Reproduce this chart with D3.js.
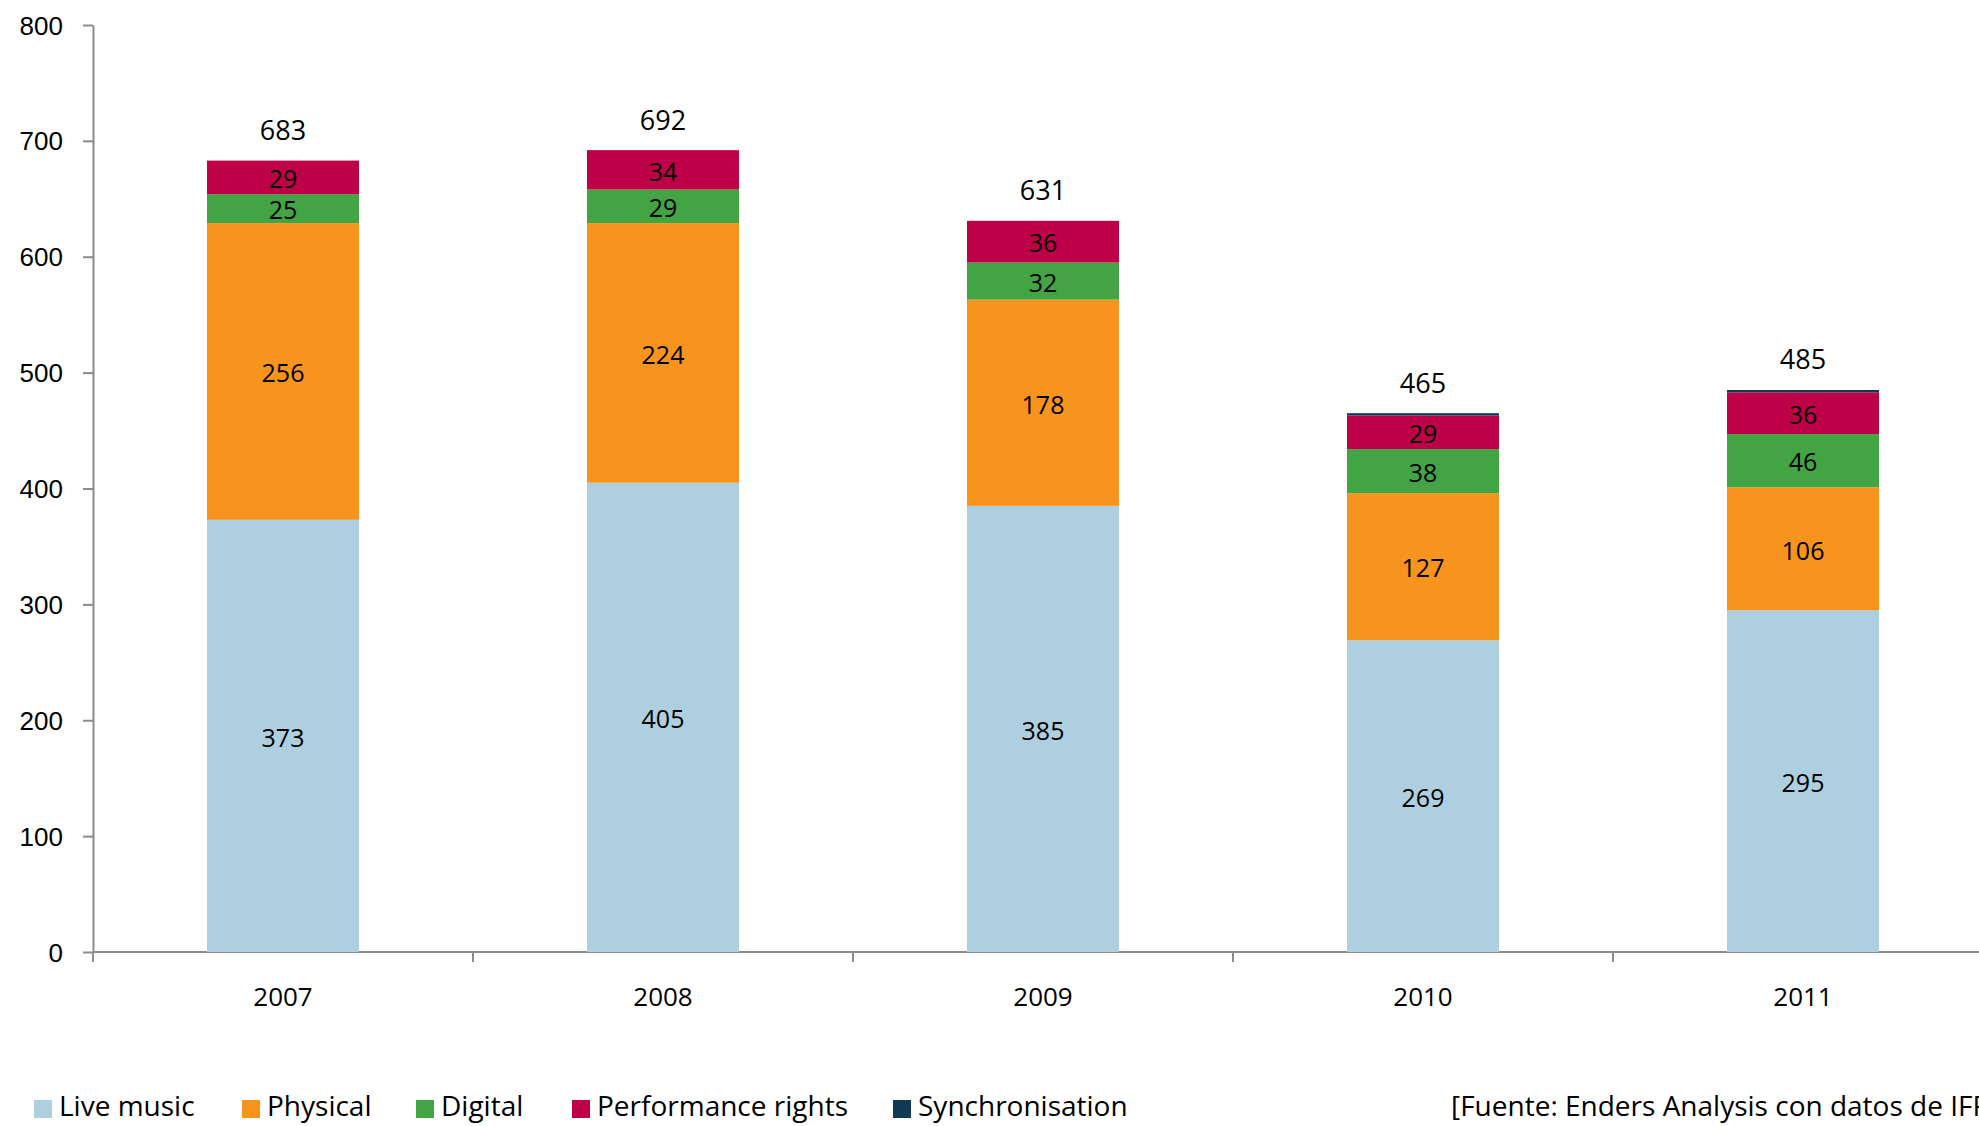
<!DOCTYPE html>
<html>
<head>
<meta charset="utf-8">
<script src="https://cdn.jsdelivr.net/npm/d3@7"></script>
<style>
  body { margin: 0; background: #fff; }
  svg { display: block; font-family: "Open Sans", "Lato", sans-serif; }
  .axis path, .axis line { stroke: #8c8c8c; stroke-width: 2px; }
  .axis text { fill: #000; font-size: 26px; }
</style>
</head>
<body>
<div id="chart"></div>
<script>
// data
var years = ["2007", "2008", "2009", "2010", "2011"];
var seriesNames = ["Live music", "Physical", "Digital", "Performance rights", "Synchronisation"];
var liveMusic = [373, 405, 385, 269, 295];
var physical = [256, 224, 178, 127, 106];
var digital = [25, 29, 32, 38, 46];
var performanceRights = [29, 34, 36, 29, 36];
var synchronisation = [0, 0, 0, 2, 2];
var totals = [683, 692, 631, 465, 485];
var yTicks = [0, 100, 200, 300, 400, 500, 600, 700, 800];
var sourceText = "[Fuente: Enders Analysis con datos de IFPI]";

var colors = ["#aecfdf", "#f7941e", "#43a444", "#bd0047", "#0f3a52"];

var width = 1979,
    height = 1126;

var svg = d3.select("#chart").append("svg")
    .attr("width", width)
    .attr("height", height);

// one row per year, built from the arrays above
var table = years.map(function (yr, i) {
    return {
        year: yr,
        "Live music": liveMusic[i],
        "Physical": physical[i],
        "Digital": digital[i],
        "Performance rights": performanceRights[i],
        "Synchronisation": synchronisation[i],
        total: totals[i]
    };
});

var stack = d3.stack().keys(seriesNames);
var layers = stack(table);

var x = d3.scaleBand()
    .domain(years)
    .range([93, 93 + 380 * years.length])
    .paddingInner(0.6)
    .paddingOuter(0.3);

var y = d3.scaleLinear()
    .domain([0, 800])
    .range([952, 25]);

// y axis
var yAxis = svg.append("g")
    .attr("class", "axis")
    .attr("transform", "translate(93,0)")
    .call(d3.axisLeft(y).tickValues(yTicks).tickSize(10).tickPadding(20).tickSizeOuter(0));
yAxis.selectAll("text").attr("dy", "0.35em");

// x axis: line with ticks at category boundaries
var xAxis = svg.append("g")
    .attr("class", "axis")
    .attr("transform", "translate(0,952)");
xAxis.append("line")
    .attr("x1", x.range()[0]).attr("x2", x.range()[1])
    .attr("y1", 0).attr("y2", 0);
var bounds = d3.range(years.length + 1).map(function (i) {
    return x.range()[0] + i * x.step();
});
xAxis.selectAll("line.tk")
    .data(bounds)
    .enter().append("line")
    .attr("class", "tk")
    .attr("x1", function (d) { return d; })
    .attr("x2", function (d) { return d; })
    .attr("y1", 0).attr("y2", 10);
xAxis.selectAll("text")
    .data(years)
    .enter().append("text")
    .attr("x", function (d) { return x(d) + x.bandwidth() / 2; })
    .attr("y", 45)
    .attr("text-anchor", "middle")
    .attr("dy", "0.35em")
    .text(function (d) { return d; });

// stacked bars
var layer = svg.append("g").selectAll("g")
    .data(layers)
    .enter().append("g")
    .attr("fill", function (d, i) { return colors[i]; });

layer.selectAll("rect")
    .data(function (d) { return d; })
    .enter().append("rect")
    .attr("x", function (d) { return x(d.data.year); })
    .attr("y", function (d) { return y(d[1]); })
    .attr("width", x.bandwidth())
    .attr("height", function (d) { return y(d[0]) - y(d[1]); });

// segment labels (synchronisation is too thin to label)
layer.filter(function (d) { return d.key !== "Synchronisation"; })
    .selectAll("text")
    .data(function (d) { return d.map(function (p) { return {p: p, key: d.key}; }); })
    .enter().append("text")
    .attr("x", function (d) { return x(d.p.data.year) + x.bandwidth() / 2; })
    .attr("y", function (d) { return (y(d.p[0]) + y(d.p[1])) / 2 + 2; })
    .attr("text-anchor", "middle")
    .attr("dy", "0.35em")
    .attr("fill", "#000")
    .style("font-size", "25px")
    .text(function (d) { return d.p.data[d.key]; });

// totals above the bars
svg.append("g").selectAll("text")
    .data(table)
    .enter().append("text")
    .attr("x", function (d) { return x(d.year) + x.bandwidth() / 2; })
    .attr("y", function (d) { return y(d.total) - 30; })
    .attr("text-anchor", "middle")
    .attr("dy", "0.35em")
    .style("font-size", "27px")
    .text(function (d) { return d.total; });

// legend
var legendX = [34, 242, 416, 572, 893];
var legend = svg.append("g").selectAll("g")
    .data(seriesNames)
    .enter().append("g")
    .attr("transform", function (d, i) { return "translate(" + legendX[i] + ",1100)"; });
legend.append("rect")
    .attr("width", 18).attr("height", 18)
    .attr("fill", function (d, i) { return colors[i]; });
legend.append("text")
    .attr("x", 25)
    .attr("y", 6)
    .attr("dy", "0.35em")
    .style("font-size", "28px")
    .text(function (d) { return d; });

// source note, runs off the right edge like the original
svg.append("text")
    .attr("x", 1451)
    .attr("y", 1106)
    .attr("dy", "0.35em")
    .style("font-size", "28px")
    .text(sourceText);
</script>
</body>
</html>
